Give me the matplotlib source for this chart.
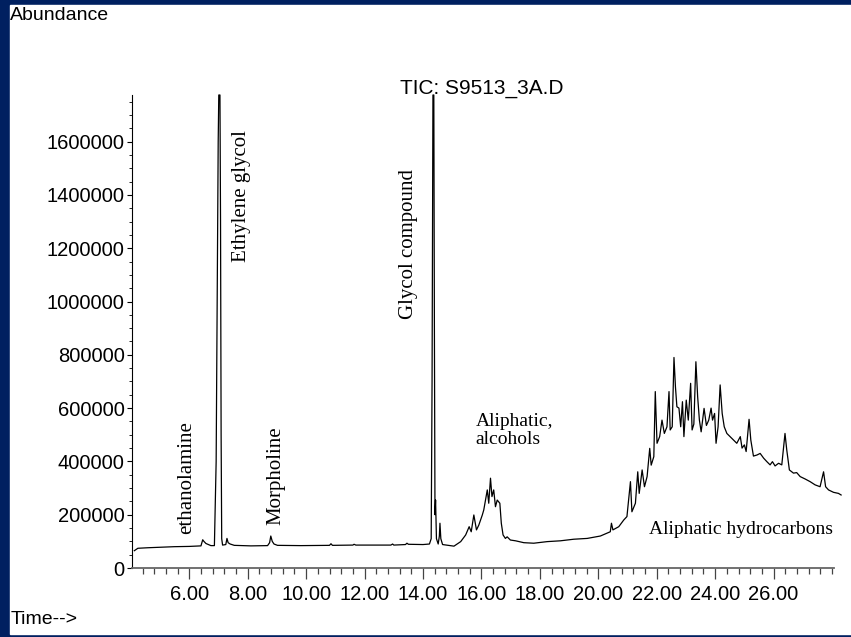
import numpy as np
import matplotlib
matplotlib.use("Agg")
import matplotlib.pyplot as plt
from matplotlib.patches import Rectangle
from matplotlib.colors import LinearSegmentedColormap
from matplotlib.ticker import MultipleLocator, FuncFormatter

# chromatogram: retention time (min), abundance (thousands)
time_min = [
    4.12, 4.24, 4.58, 5.00, 5.49, 6.00, 6.40, 6.46, 6.50, 6.57, 6.74, 6.86,
    6.92, 6.96, 6.99, 7.01, 7.05, 7.07, 7.09, 7.11, 7.14, 7.25, 7.29, 7.33,
    7.40, 7.54, 8.11, 8.68, 8.75, 8.79, 8.84, 8.90, 9.02, 9.82, 10.80, 10.85,
    10.90, 11.60, 11.64, 11.70, 12.50, 12.90, 12.96, 13.00, 13.40, 13.45, 13.50,
    14.00, 14.22, 14.28, 14.31, 14.34, 14.37, 14.39, 14.41, 14.43, 14.46, 14.52,
    14.56, 14.58, 14.61, 14.67, 15.06, 15.29, 15.46, 15.58, 15.65, 15.74, 15.83,
    15.91, 16.03, 16.08, 16.20, 16.25, 16.31, 16.36, 16.42, 16.48, 16.54, 16.63,
    16.68, 16.74, 16.82, 16.88, 16.99, 17.17, 17.45, 17.79, 18.25, 18.70, 19.16,
    19.62, 20.07, 20.41, 20.45, 20.50, 20.70, 20.87, 20.98, 21.10, 21.15, 21.27,
    21.35, 21.40, 21.50, 21.58, 21.67, 21.76, 21.81, 21.90, 21.95, 22.01, 22.10,
    22.18, 22.26, 22.35, 22.42, 22.46, 22.53, 22.59, 22.64, 22.69, 22.76, 22.82,
    22.88, 22.93, 23.01, 23.08, 23.16, 23.21, 23.27, 23.34, 23.40, 23.46, 23.52,
    23.62, 23.70, 23.78, 23.86, 23.91, 23.98, 24.03, 24.10, 24.17, 24.24, 24.31,
    24.40, 24.51, 24.63, 24.74, 24.86, 24.92, 25.00, 25.06, 25.16, 25.22, 25.31,
    25.43, 25.54, 25.66, 25.77, 25.88, 25.96, 26.05, 26.17, 26.28, 26.39, 26.45,
    26.54, 26.68, 26.79, 26.91, 27.08, 27.25, 27.42, 27.59, 27.71, 27.78, 27.88,
    28.05, 28.22, 28.31,
]
abundance_k = [
    65, 74, 76, 78, 80, 81, 83, 106, 100, 92, 84, 84,
    400, 1100, 1600, 1775, 1775, 1300, 500, 110, 86, 88, 111, 95,
    90, 85, 83, 84, 95, 120, 100, 90, 85, 84, 85, 91,
    85, 86, 89, 86, 86, 86, 90, 86, 88, 93, 89,
    88, 90, 110, 700, 1775, 1775, 900, 200, 255, 110, 90,
    120, 168, 110, 88, 82, 99, 124, 155, 136, 199, 143,
    161, 199, 218, 293, 243, 337, 268, 293, 230, 255, 243,
    168, 124, 111, 117, 105, 102, 95, 93, 99, 102, 108,
    111, 120, 136, 168, 143, 155, 180, 193, 324, 211, 243,
    361, 280, 368, 305, 343, 449, 386, 418, 662, 468, 493,
    555, 505, 530, 662, 518, 530, 790, 680, 605, 600, 530,
    624, 493, 630, 555, 693, 518, 540, 774, 643, 555, 511,
    599, 535, 555, 600, 555, 580, 468, 530, 687, 580, 530,
    505, 493, 480, 468, 493, 450, 462, 437, 558, 480, 420,
    424, 430, 412, 399, 387, 399, 383, 393, 387, 505, 443,
    368, 356, 358, 343, 334, 324, 312, 305, 361, 305, 293,
    284, 280, 274,
]
abundance = np.array(abundance_k) * 1000

x_ticks = [6, 8, 10, 12, 14, 16, 18, 20, 22, 24, 26]
y_ticks = [0, 200000, 400000, 600000, 800000, 1000000, 1200000, 1400000, 1600000]

# peak labels: text, time, abundance, rotation
peak_labels = [
    ("ethanolamine", 5.92, 341000, 90),
    ("Ethylene glycol", 7.80, 1395000, 90),
    ("Morpholine", 8.96, 345000, 90),
    ("Glycol compound", 13.49, 1216000, 90),
]

W, H = 851, 637
sans = ["Liberation Sans", "DejaVu Sans"]
serif = ["Liberation Serif", "DejaVu Serif"]

fig = plt.figure(figsize=(W / 100, H / 100), dpi=100)

# slide background: navy frame, blue gradient strip on the left, white panel
bg = fig.add_axes([0, 0, 1, 1], zorder=-5)
bg.axis("off")
bg.add_patch(Rectangle((0, 0), W, H, color="#002060"))
strip = LinearSegmentedColormap.from_list("strip", ["#001e5c", "#0a33a0", "#06297e"])
bg.imshow(np.linspace(0, 1, 256)[:, None], cmap=strip, aspect="auto",
          extent=(0, 10, 0, H), origin="upper")
bg.add_patch(Rectangle((10, 3), W - 10, H - 8, color="white"))
bg.set_xlim(0, W)
bg.set_ylim(0, H)

ax = fig.add_axes([132.3 / W, 1 - 568 / H, (833.5 - 132.3) / W, (568 - 95) / H])
ax.patch.set_alpha(0)
ax.plot(time_min, abundance, color="black", lw=0.9, clip_on=False)

ax.set_xlim(4.05, 28.05)
ax.set_ylim(0, 1775000)
ax.set_xticks(x_ticks)
ax.set_yticks(y_ticks)
ax.xaxis.set_minor_locator(MultipleLocator(0.4))
ax.yaxis.set_minor_locator(MultipleLocator(50000))
ax.xaxis.set_major_formatter(FuncFormatter(lambda v, p: f"{v:.2f}"))
ax.yaxis.set_major_formatter(FuncFormatter(lambda v, p: f"{int(v)}"))

for s in ["top", "right"]:
    ax.spines[s].set_visible(False)
ax.spines["left"].set_color("black")
ax.spines["left"].set_linewidth(0.8)
ax.spines["bottom"].set_color("#666666")
ax.spines["bottom"].set_linewidth(1.3)

ax.tick_params(axis="x", which="major", length=8, width=0.9, color="#444444", pad=4)
ax.tick_params(axis="x", which="minor", length=4.3, width=0.9, color="#444444")
ax.tick_params(axis="y", which="major", length=3.5, width=0.8, pad=2)
ax.tick_params(axis="y", which="minor", length=2, width=0.6)
for lab in ax.get_xticklabels() + ax.get_yticklabels():
    lab.set_family(sans)
    lab.set_fontsize(14.5)

for text, t, a, rot in peak_labels:
    ax.text(t, a, text, rotation=rot, ha="center", va="center",
            family=serif, fontsize=15)
ax.text(15.80, 582000, "Aliphatic,\nalcohols", ha="left", va="top",
        family=serif, fontsize=14, linespacing=1.1)
ax.text(21.75, 128000, "Aliphatic hydrocarbons", ha="left", va="baseline",
        family=serif, fontsize=14)

fig.text(10 / W, 1 - 16 / H, "Abundance", ha="left", va="center",
         family=sans, fontsize=14)
fig.text(11 / W, 1 - 620 / H, "Time-->", ha="left", va="center",
         family=sans, fontsize=14)
fig.text(482 / W, 1 - 88 / H, "TIC: S9513_3A.D", ha="center", va="center",
         family=sans, fontsize=15)

fig.savefig("out.png", dpi=100)
